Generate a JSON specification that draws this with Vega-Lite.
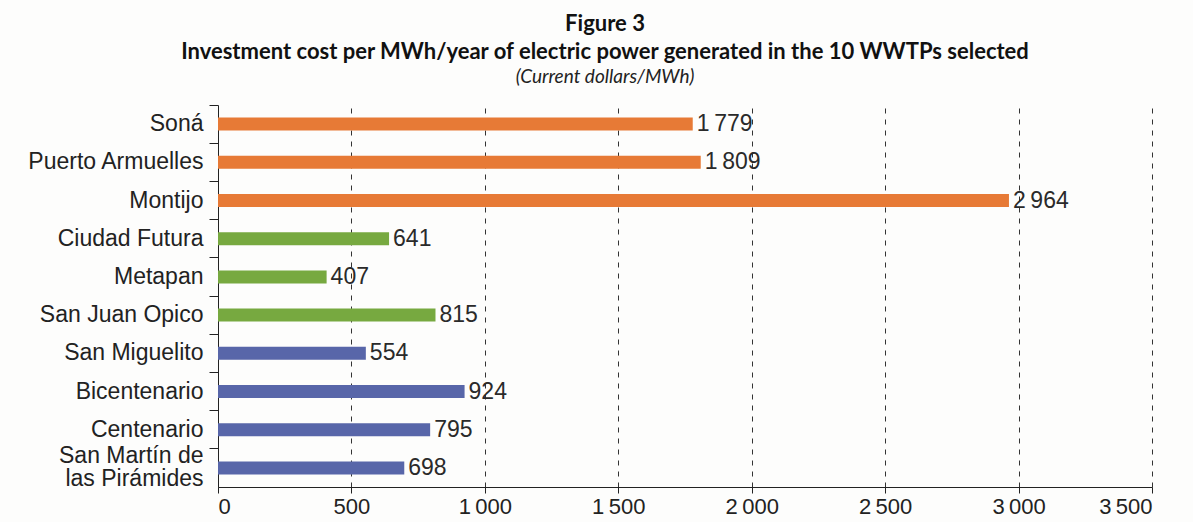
{
  "$schema": "https://vega.github.io/schema/vega-lite/v6.json",
  "width": 934,
  "height": 382,
  "autosize": "none",
  "padding": {"left": 218, "top": 105, "right": 41, "bottom": 35},
  "background": "#fdfdfc",
  "config": {
    "locale": {"number": {"decimal": ".", "thousands": "\u2009", "grouping": [3], "currency": ["$", ""]}},
    "view": {"stroke": null}
  },
  "title": {
    "text": ["Figure 3", "Investment cost per MWh/year of electric power generated in the 10 WWTPs selected"],
    "subtitle": "(Current dollars/MWh)",
    "font": "Lato",
    "fontSize": 22,
    "fontWeight": "bold",
    "color": "#111111",
    "subtitleFont": "Lato",
    "subtitleFontStyle": "italic",
    "subtitleFontSize": 19,
    "subtitleColor": "#222222",
    "anchor": "middle",
    "dx": -80,
    "offset": 17,
    "lineHeight": 28,
    "subtitlePadding": 4
  },
  "data": {
    "values": [
      {"name": "Soná", "group": "A", "value": 1779},
      {"name": "Puerto Armuelles", "group": "A", "value": 1809},
      {"name": "Montijo", "group": "A", "value": 2964},
      {"name": "Ciudad Futura", "group": "B", "value": 641},
      {"name": "Metapan", "group": "B", "value": 407},
      {"name": "San Juan Opico", "group": "B", "value": 815},
      {"name": "San Miguelito", "group": "C", "value": 554},
      {"name": "Bicentenario", "group": "C", "value": 924},
      {"name": "Centenario", "group": "C", "value": 795},
      {"name": "San Martín de las Pirámides", "group": "C", "value": 698}
    ]
  },
  "encoding": {
    "y": {
      "field": "name",
      "type": "nominal",
      "sort": null,
      "scale": {"paddingInner": 0, "paddingOuter": 0},
      "axis": {
        "title": null,
        "bandPosition": 0,
        "tickSize": 9,
        "tickColor": "#222222",
        "domainColor": "#222222",
        "labelFont": "Liberation Sans",
        "labelFontSize": 23,
        "labelColor": "#222222",
        "labelPadding": 6,
        "labelLineHeight": 23,
        "labelOffset": {"condition": {"test": "datum.value == 'San Martín de las Pirámides'", "value": -12}, "value": 0},
        "labelExpr": "datum.label == 'San Martín de las Pirámides' ? ['San Martín de', 'las Pirámides'] : datum.label"
      }
    },
    "x": {
      "field": "value",
      "type": "quantitative",
      "scale": {"domain": [0, 3500], "nice": false},
      "axis": {
        "title": null,
        "values": [0, 500, 1000, 1500, 2000, 2500, 3000, 3500],
        "format": ",d",
        "grid": true,
        "gridDash": [5, 6],
        "gridColor": "#333333",
        "gridWidth": 1,
        "tickSize": 6,
        "tickColor": "#222222",
        "domainColor": "#222222",
        "labelFont": "Liberation Sans",
        "labelFontSize": 22,
        "labelColor": "#222222",
        "labelPadding": 3
      }
    }
  },
  "layer": [
    {
      "mark": {"type": "bar", "size": 13},
      "encoding": {
        "color": {
          "field": "group",
          "type": "nominal",
          "scale": {"domain": ["A", "B", "C"], "range": ["#E77A36", "#77A940", "#5866A9"]},
          "legend": null
        }
      }
    },
    {
      "mark": {"type": "text", "align": "left", "baseline": "middle", "dx": 4, "font": "Liberation Sans", "fontSize": 23, "color": "#2a2a2a"},
      "encoding": {
        "text": {"field": "value", "type": "quantitative", "format": ",d"}
      }
    }
  ]
}
